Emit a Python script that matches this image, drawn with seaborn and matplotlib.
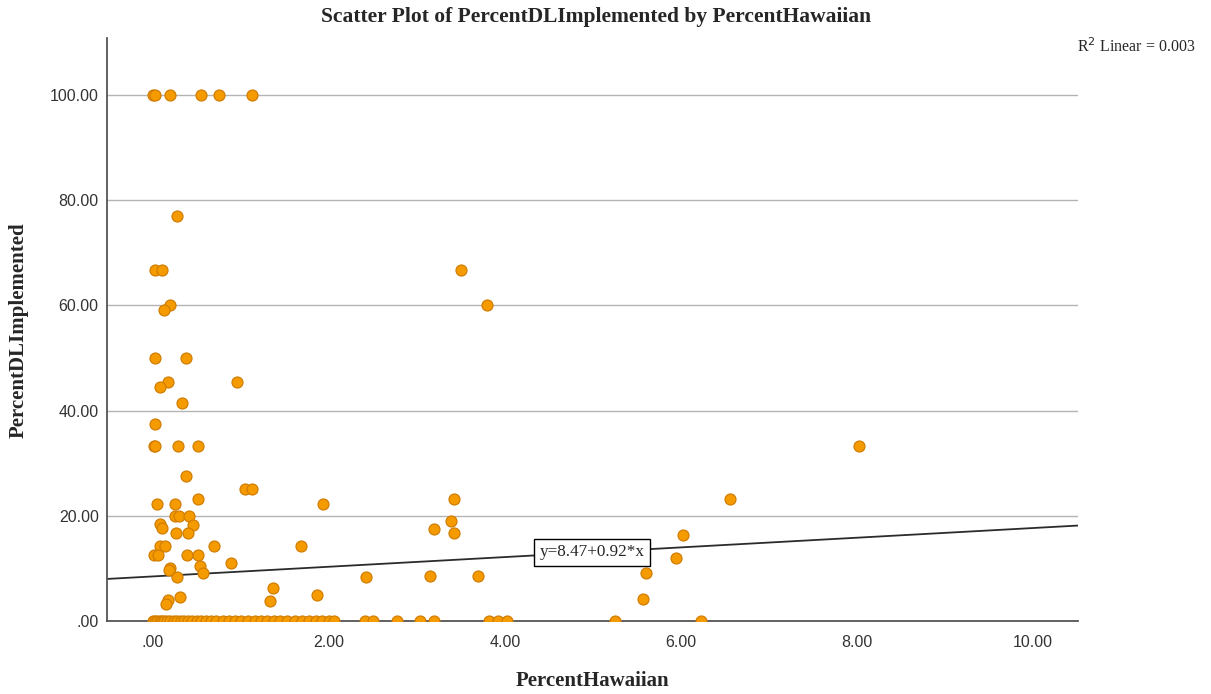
import matplotlib
matplotlib.use("Agg")
import matplotlib.pyplot as plt
import seaborn as sns
import pandas as pd

# Points with a non-zero share of DL implemented
hawaiian_nz = [0.0, 0.02, 0.20, 0.55, 0.75, 1.13,
               0.27,
               0.02, 0.10, 3.50,
               0.20, 0.125, 3.80,
               0.02, 0.38,
               0.17, 0.08, 0.955,
               0.33,
               0.02,
               0.01, 0.02, 0.29, 0.51, 8.02,
               0.38,
               1.05, 1.13,
               0.05, 0.25, 0.51, 1.93, 3.42, 6.56,
               0.25, 0.30, 0.41,
               0.08, 0.10, 0.455,
               3.39, 3.19, 3.42, 6.02,
               0.26, 0.40,
               0.08, 0.14, 0.70, 1.68,
               0.01, 0.06, 0.39, 0.51,
               5.94,
               0.54, 0.89,
               0.19, 0.18,
               0.57, 5.60,
               0.28, 2.42, 3.15, 3.70,
               1.37, 1.33, 1.86,
               0.31, 0.17, 0.15, 5.57]
dl_nz = [100, 100, 100, 100, 100, 100,
         76.9,
         66.67, 66.67, 66.67,
         60.0, 59.1, 60.0,
         50.0, 50.0,
         45.5, 44.5, 45.5,
         41.4,
         37.5,
         33.33, 33.33, 33.33, 33.33, 33.33,
         27.6,
         25.0, 25.0,
         22.2, 22.2, 23.1, 22.2, 23.1, 23.1,
         20.0, 20.0, 20.0,
         18.4, 17.7, 18.2,
         19.0, 17.4, 16.7, 16.3,
         16.7, 16.7,
         14.3, 14.3, 14.3, 14.3,
         12.5, 12.5, 12.5, 12.5,
         12.0,
         10.5, 11.1,
         10.0, 9.7,
         9.1, 9.1,
         8.3, 8.3, 8.6, 8.6,
         6.25, 3.8, 5.0,
         4.5, 4.0, 3.2, 4.2]

# Schools with nothing implemented
hawaiian_zero = [0.0, 0.02, 0.05, 0.08, 0.10, 0.13, 0.16, 0.20, 0.24, 0.28,
                 0.32, 0.36, 0.40, 0.45, 0.50, 0.55, 0.60, 0.66, 0.72, 0.80,
                 0.87, 0.93, 1.00, 1.08, 1.16, 1.23, 1.30, 1.38, 1.45, 1.53,
                 1.62, 1.70, 1.78, 1.85, 1.92, 2.00, 2.06,
                 2.41, 2.50, 2.77, 3.03, 3.19, 3.82, 3.92, 4.02, 5.25, 6.23]
dl_zero = [0.0] * len(hawaiian_zero)

# Linear fit
intercept = 8.47
slope = 0.92
r_squared = 0.003

x_ticks = [0, 2, 4, 6, 8, 10]
y_ticks = [0, 20, 40, 60, 80, 100]

df = pd.DataFrame({
    "PercentHawaiian": hawaiian_nz + hawaiian_zero,
    "PercentDLImplemented": dl_nz + dl_zero,
})

sns.set_style("white")
plt.rcParams["font.family"] = ["Liberation Sans Narrow", "Liberation Sans", "DejaVu Sans"]
serif = ["Liberation Serif", "DejaVu Serif"]

fig = plt.figure(figsize=(12.11, 6.94), dpi=100)
ax = fig.add_axes([107 / 1211, 73 / 694, (1078 - 107) / 1211, (621 - 38) / 694])

ax.set_xlim(-0.52, 10.51)
ax.set_ylim(0, 110.8)

for yv in y_ticks[1:]:
    ax.axhline(yv, color="#b4b4b4", lw=1.0, zorder=0)

sns.scatterplot(data=df, x="PercentHawaiian", y="PercentDLImplemented", ax=ax,
                s=62, color="#f59b00", edgecolor="#d27d00", linewidth=0.9,
                zorder=3)

ax.axline((0, intercept), slope=slope, color="#2b2b2b", lw=1.3, zorder=2)

lx = 4.99
ax.text(lx, intercept + slope * lx, f"y={intercept:.2f}+{slope:.2f}*x",
        ha="center", va="center", fontsize=12.3, family=serif, zorder=5,
        bbox=dict(boxstyle="square,pad=0.32", fc="white", ec="black", lw=1.0))

ax.set_xticks(x_ticks)
ax.set_yticks(y_ticks)
ax.set_xticklabels([".00" if v == 0 else f"{v:.2f}" for v in x_ticks])
ax.set_yticklabels([".00" if v == 0 else f"{v:.2f}" for v in y_ticks])
ax.tick_params(axis="both", labelsize=11.5, colors="#333333", length=0, pad=6)
ax.tick_params(axis="x", pad=10)

for side in ["top", "right"]:
    ax.spines[side].set_visible(False)
for side in ["left", "bottom"]:
    ax.spines[side].set_color("#555555")
    ax.spines[side].set_linewidth(1.3)

ax.set_xlabel("")
ax.set_ylabel("")
fig.text(592 / 1211, 1 - 681 / 694, "PercentHawaiian",
         ha="center", va="center", fontsize=15, fontweight="bold", family=serif)
fig.text(19 / 1211, 1 - 330 / 694, "PercentDLImplemented", rotation=90,
         ha="center", va="center", fontsize=15, fontweight="bold", family=serif)

fig.text(596 / 1211, 1 - 17 / 694, "Scatter Plot of PercentDLImplemented by PercentHawaiian",
         ha="center", va="center", fontsize=15.5, fontweight="bold", family=serif)
fig.text(1077 / 1211, 1 - 47 / 694, f"R$^2$ Linear = {r_squared:.3f}",
         ha="left", va="center", fontsize=11.5, family=serif)

fig.savefig("out.png", dpi=100)
